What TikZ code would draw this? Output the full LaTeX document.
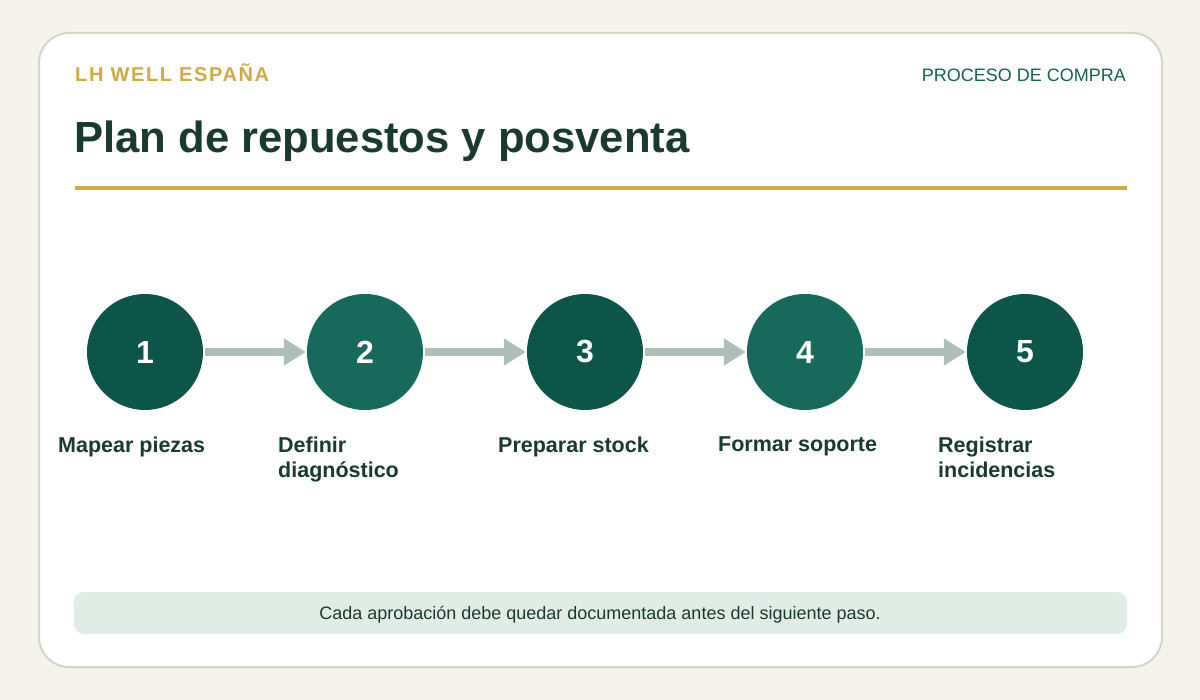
\documentclass[tikz,border=0pt]{standalone}
\usepackage{fontspec}
\setmainfont{Liberation Sans}
\usetikzlibrary{arrows.meta}
\definecolor{bgc}{HTML}{F4F3EE}
\definecolor{cardborder}{HTML}{D8D5C7}
\definecolor{gold}{HTML}{D1A947}
\definecolor{darkg}{HTML}{0D5449}
\definecolor{midg}{HTML}{17695B}
\definecolor{txtg}{HTML}{1A3A30}
\definecolor{arrowg}{HTML}{AEBFB7}
\definecolor{footbg}{HTML}{E2ECE7}
\definecolor{subg}{HTML}{17604F}
\tikzset{
  stepcircle/.style={circle, minimum size=116pt, inner sep=0pt, text=white,
    font=\fontsize{32}{36}\selectfont\bfseries},
  darkstep/.style={stepcircle, fill=darkg},
  midstep/.style={stepcircle, fill=midg},
  steplabel/.style={anchor=north west, inner sep=0pt, align=left, text=txtg,
    font=\fontsize{21.5}{24.5}\selectfont\bfseries},
  flowarrow/.style={draw=arrowg, line width=8pt,
    -{Triangle[length=22pt,width=26pt]}, shorten <=2pt, shorten >=1pt}
}
\begin{document}
\begin{tikzpicture}[x=1pt,y=-1pt]
\useasboundingbox (0,0) rectangle (1200,700);
\fill[bgc] (0,0) rectangle (1200,700);
\draw[cardborder, line width=2pt, fill=white, rounded corners=30pt] (39,33) rectangle (1162,667);
% header
\node[anchor=base west, inner sep=0pt, text=gold, font=\fontsize{20}{24}\selectfont\bfseries\addfontfeature{LetterSpace=8}] (brand) at (75,82) {LH WELL ESPAÑA};
\node[anchor=base east, inner sep=0pt, text=subg, font=\fontsize{18}{22}\selectfont] (proc) at (1126,82) {PROCESO DE COMPRA};
\node[anchor=base west, inner sep=0pt, text=txtg, font=\fontsize{43.6}{50}\selectfont\bfseries] (title) at (74,153) {Plan de repuestos y posventa};
\fill[gold] (75,186) rectangle (1127,190);
% steps
\node[darkstep] (s1) at (145,352) {1};
\node[midstep] (s2) at (365,352) {2};
\node[darkstep] (s3) at (585,352) {3};
\node[midstep] (s4) at (805,352) {4};
\node[darkstep] (s5) at (1025,352) {5};
\foreach \a/\b in {s1/s2,s2/s3,s3/s4,s4/s5}{
  \draw[flowarrow] (\a) -- (\b);
}
\node[steplabel] (l1) at (58,437) {Mapear piezas};
\node[steplabel] (l2) at (278,437) {Definir\\diagnóstico};
\node[steplabel] (l3) at (498,437) {Preparar stock};
\node[steplabel] (l4) at (718,437) {Formar soporte};
\node[steplabel] (l5) at (938,437) {Registrar\\incidencias};
% footer
\fill[footbg, rounded corners=10pt] (74,592) rectangle (1127,634);
\node[anchor=base, inner sep=0pt, text=txtg, font=\fontsize{18}{21}\selectfont] (foot) at (600,619) {Cada aprobación debe quedar documentada antes del siguiente paso.};
\end{tikzpicture}
\end{document}
